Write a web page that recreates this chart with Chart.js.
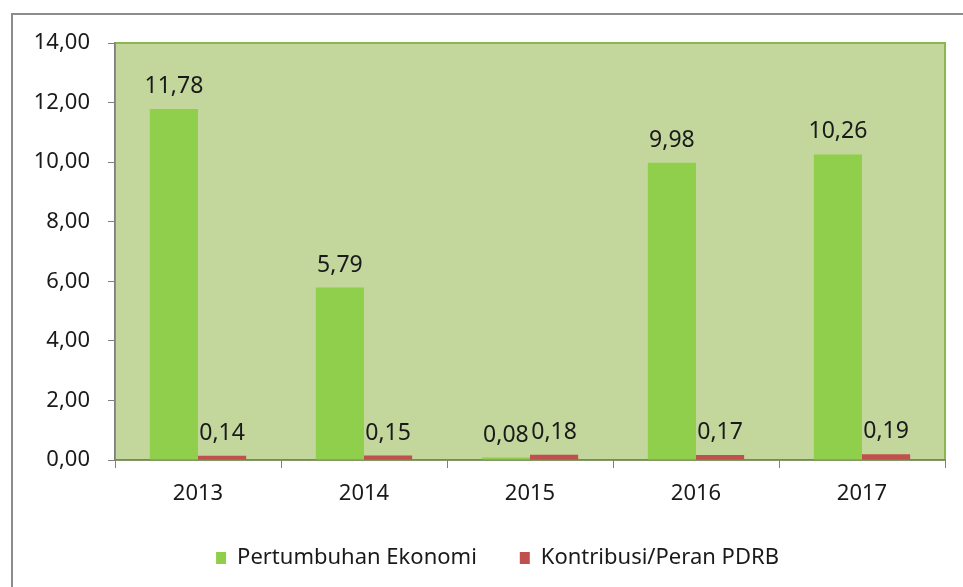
<!DOCTYPE html>
<html>
<head>
<meta charset="utf-8">
<script src="https://cdn.jsdelivr.net/npm/chart.js@4/dist/chart.umd.min.js"></script>
<style>
  html, body { margin: 0; padding: 0; background: #fff; }
  canvas { display: block; }
</style>
</head>
<body>
<canvas id="chart" width="963" height="587"></canvas>
<script>
// Data
const years = ['2013', '2014', '2015', '2016', '2017'];
const pertumbuhan = [11.78, 5.79, 0.08, 9.98, 10.26];
const kontribusi = [0.14, 0.15, 0.18, 0.17, 0.19];
const yTicks = [0, 2, 4, 6, 8, 10, 12, 14];

const fmt = v => v.toFixed(2).replace('.', ',');
const FONT = '"Noto Sans", "DejaVu Sans", sans-serif';

// plot background, green frame and the outer grey sheet border
const plotFrame = {
    id: 'plotFrame',
    afterLayout(chart) {
        // legend in the reference sits a bit right of the canvas centre
        chart.legend.left += 50;
    },
    beforeDraw(chart) {
        const { ctx, chartArea: a } = chart;
        ctx.save();
        ctx.strokeStyle = '#8c8c8c';
        ctx.lineWidth = 2;
        ctx.beginPath();
        ctx.moveTo(12, 587);
        ctx.lineTo(12, 14);
        ctx.lineTo(963, 14);
        ctx.stroke();
        ctx.fillStyle = '#c3d69b';
        ctx.fillRect(a.left, a.top, a.right - a.left, a.bottom - a.top);
        ctx.strokeStyle = '#8db552';
        ctx.lineWidth = 2;
        ctx.strokeRect(a.left, a.top, a.right - a.left, a.bottom - a.top);
        ctx.restore();
    }
};

// value labels above each bar
const valueLabels = {
    id: 'valueLabels',
    afterDatasetsDraw(chart) {
        const { ctx } = chart;
        ctx.save();
        ctx.font = '23px ' + FONT;
        ctx.fillStyle = '#1a1a1a';
        ctx.textAlign = 'center';
        ctx.textBaseline = 'bottom';
        chart.data.datasets.forEach((ds, i) => {
            chart.getDatasetMeta(i).data.forEach((bar, j) => {
                ctx.fillText(fmt(ds.data[j]), bar.x, bar.y - 11);
            });
        });
        ctx.restore();
    }
};

new Chart(document.getElementById('chart'), {
    type: 'bar',
    data: {
        labels: years,
        datasets: [
            {
                label: 'Pertumbuhan Ekonomi',
                data: pertumbuhan,
                backgroundColor: '#8fcf4c',
                categoryPercentage: 0.58,
                barPercentage: 1.0,
            },
            {
                label: 'Kontribusi/Peran PDRB',
                data: kontribusi,
                backgroundColor: '#c0504d',
                categoryPercentage: 0.58,
                barPercentage: 1.0,
            }
        ]
    },
    options: {
        responsive: false,
        animation: false,
        devicePixelRatio: 1,
        layout: { padding: { top: 43, right: 18, left: 0, bottom: 8 } },
        plugins: {
            legend: {
                position: 'bottom',
                labels: {
                    boxWidth: 10,
                    boxHeight: 12,
                    padding: 43,
                    color: '#1a1a1a',
                    font: { family: FONT, size: 22, lineHeight: 1.0 }
                }
            },
            tooltip: { enabled: false }
        },
        scales: {
            x: {
                grid: { offset: true, drawOnChartArea: false, tickLength: 8, color: '#7f7f7f' },
                border: { color: '#7f7f7f', width: 1.5 },
                ticks: { color: '#1a1a1a', padding: 13, font: { family: FONT, size: 22 } },
                afterFit: s => { s.height = 44; }
            },
            y: {
                min: 0,
                max: 14,
                afterBuildTicks: s => { s.ticks = yTicks.map(v => ({ value: v })); },
                grid: { drawOnChartArea: false, tickLength: 7, color: '#7f7f7f' },
                border: { color: '#7f7f7f', width: 1.5 },
                ticks: {
                    color: '#1a1a1a',
                    padding: 18,
                    font: { family: FONT, size: 22 },
                    callback: v => fmt(v)
                },
                afterFit: s => { s.width = 115; }
            }
        }
    },
    plugins: [plotFrame, valueLabels]
});
</script>
</body>
</html>
